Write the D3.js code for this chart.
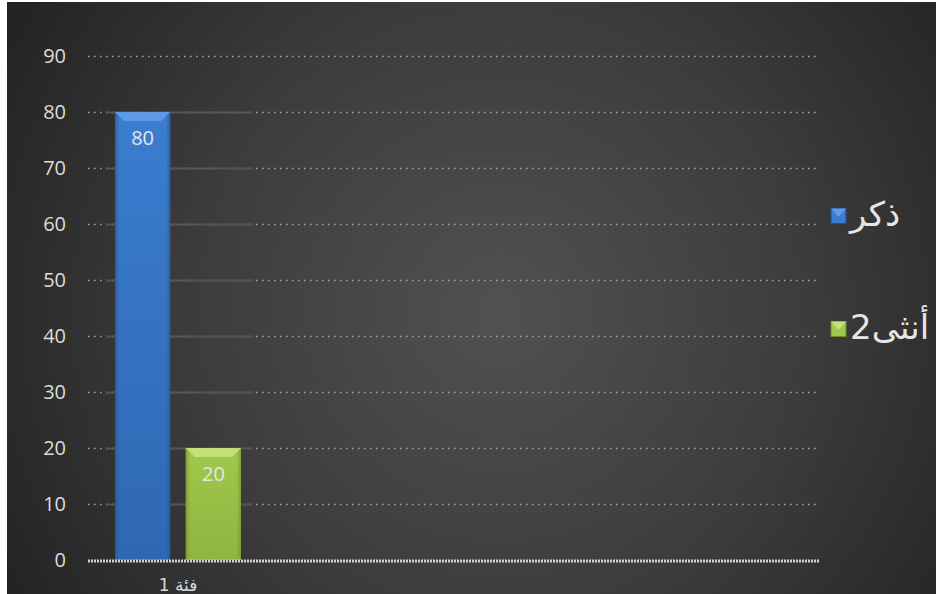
<!DOCTYPE html>
<html>
<head>
<meta charset="utf-8">
<style>
  html, body { margin: 0; padding: 0; background: #fff; }
  svg { display: block; }
</style>
</head>
<body>
<svg width="937" height="594"></svg>
<script src="https://cdn.jsdelivr.net/npm/d3@7"></script>
<script>
// data
var categories = ["فئة 1"];
var seriesNames = ["ذكر", "أنثى2"];
var maleValues = [80];
var femaleValues = [20];
var yTicks = [0, 10, 20, 30, 40, 50, 60, 70, 80, 90];

var seriesColors = [
  { top: "#5f9ae6", mid: "#3b7dd0", bot: "#2f68b2", edge: "#244f88" },
  { top: "#c3e07a", mid: "#9fc84c", bot: "#8fb63f", edge: "#6d8c2c" }
];

var svg = d3.select("svg"),
    width = +svg.attr("width"),
    height = +svg.attr("height");

var defs = svg.append("defs");

var bg = defs.append("radialGradient").attr("id", "bg")
  .attr("gradientUnits", "userSpaceOnUse")
  .attr("cx", 500).attr("cy", 310).attr("r", 560);
bg.append("stop").attr("offset", "0%").attr("stop-color", "#515151");
bg.append("stop").attr("offset", "55%").attr("stop-color", "#3c3c3c");
bg.append("stop").attr("offset", "100%").attr("stop-color", "#242424");

seriesColors.forEach(function(c, i) {
  var g = defs.append("linearGradient").attr("id", "bar" + i)
    .attr("x1", 0).attr("y1", 0).attr("x2", 0).attr("y2", 1);
  g.append("stop").attr("offset", "0%").attr("stop-color", c.mid);
  g.append("stop").attr("offset", "100%").attr("stop-color", c.bot);
  var h = defs.append("linearGradient").attr("id", "side" + i)
    .attr("x1", 0).attr("y1", 0).attr("x2", 1).attr("y2", 0);
  h.append("stop").attr("offset", "0%").attr("stop-color", c.edge).attr("stop-opacity", 0.6);
  h.append("stop").attr("offset", "8%").attr("stop-color", c.edge).attr("stop-opacity", 0);
  h.append("stop").attr("offset", "92%").attr("stop-color", c.edge).attr("stop-opacity", 0);
  h.append("stop").attr("offset", "100%").attr("stop-color", c.edge).attr("stop-opacity", 0.6);
});

// chart area (white frame round it)
svg.append("rect").attr("x", 7).attr("y", 2)
  .attr("width", width - 8).attr("height", height)
  .attr("fill", "url(#bg)");

var plot = { left: 88, right: 820, top: 56, bottom: 560 };

var y = d3.scaleLinear().domain([0, 90]).range([plot.bottom, plot.top]);

var x = d3.scaleBand().domain(categories)
  .range([plot.left, plot.left + (plot.right - plot.left) / 4 - 3]);

var xs = d3.scaleBand().domain(seriesNames)
  .range([27, x.bandwidth() - 27])
  .paddingInner(0.22);

var fontNum = "'Open Sans', 'DejaVu Sans', sans-serif";
var fontAr = "'DejaVu Sans', Arial, sans-serif";

// gridlines
var grid = svg.append("g");
grid.selectAll("line.dot").data(yTicks.filter(function(d) { return d > 0; }))
  .enter().append("line")
  .attr("x1", plot.left).attr("x2", plot.right)
  .attr("y1", function(d) { return y(d) + 0.5; })
  .attr("y2", function(d) { return y(d) + 0.5; })
  .attr("stroke", "#a8a8a8")
  .attr("stroke-width", 1.3)
  .attr("stroke-dasharray", "1.5,4.5");
grid.selectAll("line.solid").data(yTicks.filter(function(d) { return d > 0 && d <= 80; }))
  .enter().append("line")
  .attr("x1", x(categories[0]) + 18).attr("x2", x(categories[0]) + 164)
  .attr("y1", function(d) { return y(d) + 0.5; })
  .attr("y2", function(d) { return y(d) + 0.5; })
  .attr("stroke", "#555")
  .attr("stroke-width", 2);

// y axis
var yAxis = d3.axisLeft(y).tickValues(yTicks).tickSize(0).tickPadding(22);
var ya = svg.append("g").attr("transform", "translate(" + plot.left + ",0)").call(yAxis);
ya.select(".domain").remove();
ya.attr("font-size", 20).attr("font-family", fontNum);
ya.selectAll("text").attr("fill", "#dcdcdc");

// bars
var rows = categories.map(function(c, i) {
  return [
    { cat: c, name: seriesNames[0], value: maleValues[i], idx: 0 },
    { cat: c, name: seriesNames[1], value: femaleValues[i], idx: 1 }
  ];
});

var bars = svg.append("g").selectAll("g.cat").data(rows).enter().append("g")
  .attr("transform", function(d) { return "translate(" + x(d[0].cat) + ",0)"; })
  .selectAll("g.bar").data(function(d) { return d; }).enter().append("g");

var bw = xs.bandwidth(), bev = 9;

bars.append("rect")
  .attr("x", function(d) { return xs(d.name); })
  .attr("y", function(d) { return y(d.value); })
  .attr("width", bw)
  .attr("height", function(d) { return y(0) - y(d.value); })
  .attr("fill", function(d) { return "url(#bar" + d.idx + ")"; });
bars.append("rect")
  .attr("x", function(d) { return xs(d.name); })
  .attr("y", function(d) { return y(d.value); })
  .attr("width", bw)
  .attr("height", function(d) { return y(0) - y(d.value); })
  .attr("fill", function(d) { return "url(#side" + d.idx + ")"; });
// top bevel
bars.append("path")
  .attr("d", function(d) {
    var x0 = xs(d.name), y0 = y(d.value);
    return "M" + x0 + "," + y0 + "H" + (x0 + bw) + "L" + (x0 + bw - bev) + "," + (y0 + bev) +
      "H" + (x0 + bev) + "Z";
  })
  .attr("fill", function(d) { return seriesColors[d.idx].top; });
// bottom bevel
bars.append("path")
  .attr("d", function(d) {
    var x0 = xs(d.name), y0 = y(0);
    return "M" + x0 + "," + y0 + "H" + (x0 + bw) + "L" + (x0 + bw - bev) + "," + (y0 - bev) +
      "H" + (x0 + bev) + "Z";
  })
  .attr("fill", function(d) { return seriesColors[d.idx].bot; })
  .attr("opacity", 0.8);

bars.append("text")
  .attr("x", function(d) { return xs(d.name) + bw / 2; })
  .attr("y", function(d) { return y(d.value) + 33; })
  .attr("text-anchor", "middle")
  .attr("fill", "#e6e6e6")
  .attr("font-size", 20)
  .attr("font-family", fontNum)
  .text(function(d) { return d.value; });

// baseline
svg.append("line")
  .attr("x1", plot.left).attr("x2", plot.right)
  .attr("y1", y(0) + 1).attr("y2", y(0) + 1)
  .attr("stroke", "#d0d0d0").attr("stroke-width", 3)
  .attr("stroke-dasharray", "2,1");

// x axis labels
svg.append("g").selectAll("text").data(categories).enter().append("text")
  .attr("x", function(d) { return x(d) + x.bandwidth() / 2; })
  .attr("y", 591)
  .attr("text-anchor", "middle")
  .attr("fill", "#dcdcdc")
  .attr("font-size", 17)
  .attr("font-family", fontAr)
  .text(function(d) { return d; });

// legend
var legendY = [216, 329];
var leg = svg.append("g").selectAll("g").data(seriesNames).enter().append("g")
  .attr("transform", function(d, i) { return "translate(831," + legendY[i] + ")"; });
leg.append("rect").attr("x", 0).attr("y", -7.5).attr("width", 15).attr("height", 15)
  .attr("fill", function(d, i) { return seriesColors[i].mid; })
  .attr("stroke", function(d, i) { return seriesColors[i].edge; });
leg.append("path").attr("d", "M0,-7.5H15L7.5,1Z")
  .attr("fill", function(d, i) { return seriesColors[i].top; });
leg.append("text").attr("x", 19).attr("y", 10)
  .attr("fill", "#e6e6e6")
  .attr("font-size", 34)
  .attr("font-family", fontAr)
  .text(function(d) { return d; });
</script>
</body>
</html>
